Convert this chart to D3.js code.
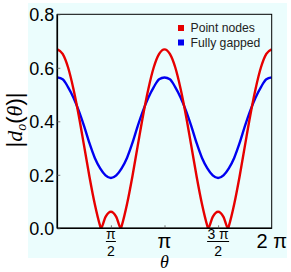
<!DOCTYPE html>
<html><head><meta charset="utf-8">
<script src="https://cdn.jsdelivr.net/npm/d3@7"></script>
<style>body{margin:0;background:#fff;}svg{display:block;}</style>
</head><body>
<svg id="c" width="291" height="272"></svg>
<script>
// θ in units of π
const thetaBlue = [0,0.05,0.1,0.15,0.2,0.25,0.3,0.35,0.4,0.45,0.5,0.55,0.6,0.65,0.7,0.75,0.8,0.85,0.9,0.95,1,
  1.05,1.1,1.15,1.2,1.25,1.3,1.35,1.4,1.45,1.5,1.55,1.6,1.65,1.7,1.75,1.8,1.85,1.9,1.95,2];
const blueVals = [0.564,0.557,0.528,0.489,0.440,0.382,0.318,0.263,0.224,0.198,0.188,0.198,0.224,0.263,0.318,0.382,0.440,0.489,0.528,0.557,0.564,
  0.557,0.528,0.489,0.440,0.382,0.318,0.263,0.224,0.198,0.188,0.198,0.224,0.263,0.318,0.382,0.440,0.489,0.528,0.557,0.564];
const thetaRed = [0,0.05,0.1,0.15,0.2,0.25,0.3,0.35,0.4,0.406,0.45,0.5,0.55,0.594,0.6,0.65,0.7,0.75,0.8,0.85,0.9,0.95,1,
  1.05,1.1,1.15,1.2,1.25,1.3,1.35,1.4,1.406,1.45,1.5,1.55,1.594,1.6,1.65,1.7,1.75,1.8,1.85,1.9,1.95,2];
const redVals = [0.669,0.652,0.602,0.522,0.422,0.308,0.193,0.090,0.008,0,0.043,0.062,0.043,0,0.008,0.090,0.193,0.308,0.422,0.522,0.602,0.652,0.669,
  0.652,0.602,0.522,0.422,0.308,0.193,0.090,0.008,0,0.043,0.062,0.043,0,0.008,0.090,0.193,0.308,0.422,0.522,0.602,0.652,0.669];
const seriesNames = ["Point nodes","Fully gapped"];
const seriesColors = ["#e60000","#0000f0"];
const yTicks = [0,0.2,0.4,0.6,0.8];
const yTickLabels = ["0.0","0.2","0.4","0.6","0.8"];
const xTicks = [0.5,1,1.5,2];
const xTickLabels = ["π/2","π","3 π/2","2 π"];

const svg = d3.select("#c");
const L=57.3,R=271.7,T=14.3,B=228.3;
const x = d3.scaleLinear().domain([0,2]).range([L,R]);
const y = d3.scaleLinear().domain([0,0.8]).range([B,T]);

svg.append("rect").attr("x",28).attr("y",3).attr("width",259).attr("height",255).attr("fill","#ebfdfd");

svg.append("clipPath").attr("id","clip").append("rect").attr("x",L).attr("y",T-2).attr("width",R-L).attr("height",B-T+2);

const line = d3.line().x(d=>x(d[0])).y(d=>y(d[1])).curve(d3.curveMonotoneX);
const g = svg.append("g").attr("clip-path","url(#clip)");
g.append("path").datum(thetaBlue.map((t,i)=>[t,blueVals[i]])).attr("d",line)
  .attr("fill","none").attr("stroke",seriesColors[1]).attr("stroke-width",2.4).attr("stroke-linejoin","round");
g.append("path").datum(thetaRed.map((t,i)=>[t,redVals[i]])).attr("d",line)
  .attr("fill","none").attr("stroke",seriesColors[0]).attr("stroke-width",2.4).attr("stroke-linejoin","round");

// frame
svg.append("rect").attr("x",L).attr("y",T).attr("width",R-L).attr("height",B-T).attr("fill","none").attr("stroke","#000").attr("stroke-width",1);
svg.append("line").attr("x1",L).attr("x2",L).attr("y1",T).attr("y2",B).attr("stroke","#000").attr("stroke-width",1.6);
svg.append("line").attr("x1",L).attr("x2",R).attr("y1",B).attr("y2",B).attr("stroke","#000").attr("stroke-width",1.6);

// y axis
const yAxis = d3.axisLeft(y).tickValues(yTicks).tickSizeInner(-3).tickSizeOuter(0).tickPadding(3)
  .tickFormat((d,i)=>yTickLabels[i]);
const ya = svg.append("g").attr("transform",`translate(${L},0)`).call(yAxis);
ya.select(".domain").remove();
ya.selectAll("line").attr("stroke","#555").attr("stroke-width",0.8);
ya.selectAll("text").attr("font-family","Liberation Sans, Arial, sans-serif").attr("font-size",18).attr("fill","#000").attr("dy","0.36em");

// x ticks
const xAxis = d3.axisBottom(x).tickValues(xTicks.filter(t=>t<2)).tickSizeInner(-3).tickSizeOuter(0).tickFormat("");
const xa = svg.append("g").attr("transform",`translate(0,${B})`).call(xAxis);
xa.select(".domain").remove();
xa.selectAll("line").attr("stroke","#555").attr("stroke-width",0.8);

xTicks.forEach((t,i)=>{
  const lab = xTickLabels[i];
  const cx = x(t);
  if(lab.includes("/")){
    const [num,den] = lab.split("/");
    svg.append("text").attr("x",cx).attr("y",239).attr("text-anchor","middle")
      .attr("font-family","Liberation Sans, Arial, sans-serif").attr("font-size",14).text(num);
    const w = num.length>1?22:10;
    svg.append("line").attr("x1",cx-w/2).attr("x2",cx+w/2).attr("y1",241.5).attr("y2",241.5).attr("stroke","#000").attr("stroke-width",1);
    svg.append("text").attr("x",cx).attr("y",255.5).attr("text-anchor","middle")
      .attr("font-family","Liberation Sans, Arial, sans-serif").attr("font-size",14).text(den);
  } else {
    svg.append("text").attr("x",cx).attr("y",248).attr("text-anchor","middle")
      .attr("font-family","Liberation Sans, Arial, sans-serif").attr("font-size",20).text(lab);
  }
});

// axis titles
svg.append("text").attr("x",(L+R)/2).attr("y",267.5).attr("text-anchor","middle")
  .attr("font-family","Liberation Serif, serif").attr("font-style","italic").attr("font-size",18).text("θ");

const yl = svg.append("text").attr("transform","translate(22,120) rotate(-90)").attr("text-anchor","middle")
  .attr("font-family","Liberation Sans, Arial, sans-serif").attr("font-size",22);
yl.append("tspan").text("|");
yl.append("tspan").attr("font-family","Liberation Serif, serif").attr("font-style","italic").text("d");
yl.append("tspan").attr("font-family","Liberation Serif, serif").attr("font-style","italic").attr("font-size",14).attr("dy",4).text("o");
yl.append("tspan").attr("dy",-4).text("(");
yl.append("tspan").attr("font-family","Liberation Serif, serif").attr("font-style","italic").text("θ");
yl.append("tspan").text(")|");

// legend
seriesNames.forEach((n,i)=>{
  const ly = 28 + i*14.5;
  svg.append("rect").attr("x",178).attr("y",ly-3).attr("width",6).attr("height",6).attr("fill",seriesColors[i]);
  svg.append("text").attr("x",190.5).attr("y",ly).attr("dy","0.35em")
    .attr("font-family","Liberation Sans, Arial, sans-serif").attr("font-size",12.2).attr("fill","#222").text(n);
});
</script>
</body></html>
